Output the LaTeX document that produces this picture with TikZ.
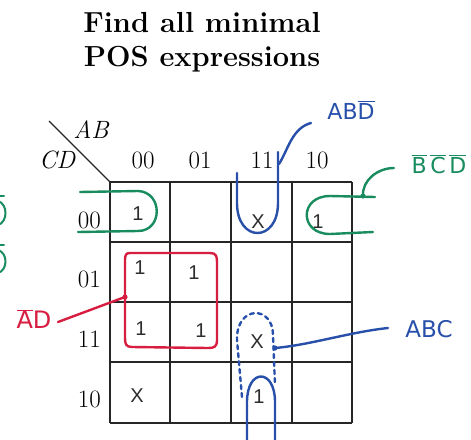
\documentclass[tikz,border=0pt]{standalone}
\usepackage{fontspec}
\newfontfamily\hand{DejaVu Sans}
\newfontfamily\entryfont{Liberation Sans}
\definecolor{mgreen}{RGB}{25,140,95}
\definecolor{mblue}{RGB}{40,80,170}
\definecolor{mred}{RGB}{215,30,65}
\definecolor{ink}{RGB}{45,45,45}
\newcommand{\ob}[1]{$\overline{\mbox{#1}}$}
\begin{document}
\begin{tikzpicture}[x=1pt,y=-1pt,
  gridline/.style={line width=1.6pt, black!85},
  pen/.style={line width=2.4pt, line cap=round, line join=round},
  dashpen/.style={pen, dash pattern=on 4pt off 4pt},
  lab/.style={font=\fontsize{25}{28}\selectfont, inner sep=0pt, anchor=base},
  hw/.style={font=\hand\fontsize{22}{25}\selectfont, inner sep=0pt},
  entry/.style={font=\entryfont\fontsize{20}{22}\selectfont, text=ink, inner sep=0pt},
  title/.style={font=\bfseries\fontsize{29}{32}\selectfont, anchor=base, inner sep=0pt}]
\useasboundingbox (0,0) rectangle (471,439);
\fill[white] (0,0) rectangle (471,439);

% title
\node[title] (t1) at (202,32) {Find all minimal};
\node[title] (t2) at (202,66) {POS expressions};

% grid
\foreach \x in {110,170,231,292,352} \draw[gridline] (\x,182) -- (\x,423);
\foreach \y in {182,242,302,362,423} \draw[gridline] (110,\y) -- (352,\y);
\draw[gridline, line width=1.2pt] (49,121) -- (110,182);

% axis labels
\node[lab, font=\itshape\fontsize{25}{28}\selectfont] (ab) at (91,138) {AB};
\node[lab, font=\itshape\fontsize{25}{28}\selectfont] (cd) at (57,168) {CD};
\node[lab] (c00) at (143,168) {00};
\node[lab] (c01) at (200,168) {01};
\node[lab] (c11) at (262,168) {11};
\node[lab] (c10) at (317,168) {10};
\node[lab, anchor=base east] (r00) at (101,228) {00};
\node[lab, anchor=base east] (r01) at (101,287) {01};
\node[lab, anchor=base east] (r11) at (101,347) {11};
\node[lab, anchor=base east] (r10) at (101,407) {10};

% entries
\node[entry] (e1) at (138,214) {1};
\node[entry] (e2) at (258,222) {X};
\node[entry] (e3) at (318,222) {1};
\node[entry] (e4) at (140,268) {1};
\node[entry] (e5) at (194,273) {1};
\node[entry] (e6) at (141,329) {1};
\node[entry] (e7) at (201,331) {1};
\node[entry] (e8) at (257,342) {X};
\node[entry] (e9) at (137,396) {X};
\node[entry] (e10) at (259,397) {1};

% green groups
\draw[pen, mgreen] (80,192) -- (138,191) .. controls (163,192) and (163,231) .. (138,231) -- (78,232);
\draw[pen, mgreen] (375,197) -- (330,196) .. controls (299,196) and (299,234) .. (330,234) -- (373,232);
\node[hw, text=mgreen] (bcd) at (439,164) {\ob{B}\,\ob{C}\,\ob{D}};
\coordinate (gdot) at (363,196);
\coordinate (gend) at (394,168);
\fill[mgreen] (gdot) circle (2.6);
\draw[pen, mgreen] (gdot) .. controls (362,180) and (378,168) .. (gend);
% green fragments at the left edge
\draw[pen, mgreen, line width=2pt] (-2,201) .. controls (8,204) and (8,222) .. (-2,225);
\draw[pen, mgreen, line width=2pt] (-2,250) .. controls (8,253) and (8,270) .. (-2,273);
\draw[pen, mgreen, line width=2pt] (0,196) -- (4,196);
\draw[pen, mgreen, line width=2pt] (0,245) -- (4,245);

% blue groups
\draw[pen, mblue] (237,173) -- (237,203) .. controls (237,243) and (278,243) .. (278,203) -- (278,152);
\node[hw, text=mblue] (abd) at (351,110) {AB\ob{D}};
\coordinate (bdot) at (279,164);
\coordinate (bend) at (311,123);
\draw[pen, mblue] (bdot) .. controls (288,150) and (292,128) .. (bend);

\draw[pen, mblue] (247,441) -- (247,402) .. controls (247,368) and (275,368) .. (275,402) -- (275,441);
\draw[dashpen, mblue] (242,397) -- (237,340) .. controls (236,305) and (273,305) .. (273,335) -- (275,385);
\node[hw, text=mblue, font=\hand\fontsize{23}{26}\selectfont] (abc) at (429,329) {ABC};
\coordinate (cdot) at (275,348);
\coordinate (cend) at (388,328);
\fill[mblue] (cdot) circle (2.6);
\draw[pen, mblue] (cdot) .. controls (310,345) and (350,332) .. (cend);

% red group
\draw[pen, mred] (130,253) -- (210,253) .. controls (216,253) and (217,256) .. (217,262)
  -- (217,340) .. controls (217,347) and (214,348) .. (208,348)
  -- (132,347) .. controls (126,347) and (125,344) .. (125,338)
  -- (125,260) .. controls (125,255) and (126,253) .. (130,253);
\node[hw, text=mred, font=\hand\fontsize{24}{26}\selectfont] (ad) at (34,319) {\ob{A}D};
\coordinate (rdot) at (125,297);
\coordinate (rend) at (58,322);
\fill[mred] (rdot) circle (2.6);
\draw[pen, mred] (rdot) -- (rend);
\end{tikzpicture}
\end{document}
